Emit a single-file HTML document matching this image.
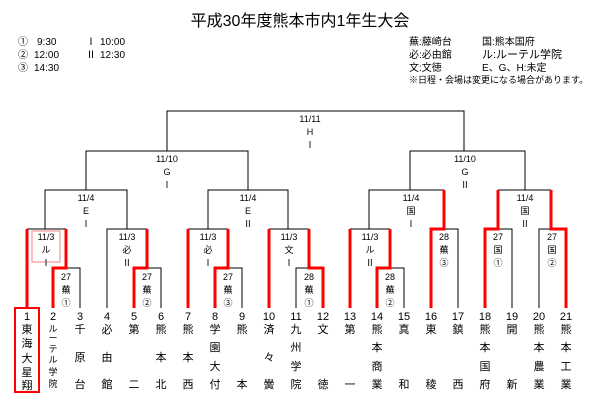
<!DOCTYPE html>
<html><head><meta charset="utf-8"><style>
body{margin:0;background:#fff}
svg{display:block}
text{font-family:"Liberation Sans","Noto Sans CJK JP",sans-serif;fill:#000}
</style></head><body>
<svg width="600" height="400" viewBox="0 0 600 400" xmlns="http://www.w3.org/2000/svg">
<text x="300" y="26" font-size="16" text-anchor="middle">平成30年度熊本市内1年生大会</text>
<g font-size="10">
<text x="18" y="45">①</text><text x="37" y="45">9:30</text><text x="86" y="45">Ⅰ</text><text x="100" y="45">10:00</text>
<text x="18" y="58">②</text><text x="34" y="58">12:00</text><text x="86" y="58">Ⅱ</text><text x="100" y="58">12:30</text>
<text x="18" y="71">③</text><text x="34" y="71">14:30</text>
<text x="409" y="45">蕪:藤崎台</text><text x="482" y="45">国:熊本国府</text>
<text x="409" y="58">必:必由館</text><text x="482" y="58" font-size="11">ル:ルーテル学院</text>
<text x="409" y="71">文:文徳</text><text x="482" y="71">E、G、H:未定</text>
<text x="409" y="83" font-size="9">※日程・会場は変更になる場合があります。</text>
</g>
<g stroke="#000" stroke-width="1" fill="none">
<path d="M167 151V111H464V151"/>
<path d="M86 190V151H248V190"/>
<path d="M410 190V151H525V190"/>
<path d="M45 229V190H127V229"/>
<path d="M208 229V190H288V229"/>
<path d="M369 229V190H444"/>
<path d="M498 190H551"/>
<path d="M27 229H66"/><path d="M107 308V229H147"/><path d="M188 229H228"/><path d="M269 229H309"/><path d="M350 229H390"/>
<path d="M444 229H458V308"/><path d="M485 229H512V308"/><path d="M539 308V229H551"/>
<path d="M66 268H80V308"/><path d="M147 268H161V308"/><path d="M228 268H242V308"/><path d="M296 308V268H309"/><path d="M390 268H404V308"/>
</g>
<g stroke="#f00" stroke-width="3" fill="none">
<path d="M27 229V308"/>
<path d="M53 308V268H66V229"/>
<path d="M134 308V268H147V229"/>
<path d="M188 229V308"/>
<path d="M215 308V268H228V229"/>
<path d="M269 229V308"/>
<path d="M323 308V268H309V229"/>
<path d="M350 229V308"/>
<path d="M377 308V268H390V229"/>
<path d="M431 308V229H444V190"/>
<path d="M485 308V229H498V190"/>
<path d="M566 308V229H551V190"/>
</g>
<rect x="32" y="231" width="28" height="31" fill="#fff" stroke="#f08080" stroke-width="1"/>
<rect x="15" y="308" width="24" height="84" fill="none" stroke="#f00" stroke-width="2"/>
<g font-size="9" text-anchor="middle" fill="#333">
<text x="310" y="122">11/11</text><text x="310" y="135">H</text><text x="310" y="148">Ⅰ</text>
<text x="167" y="162">11/10</text><text x="167" y="175">G</text><text x="167" y="188">Ⅰ</text>
<text x="465" y="162">11/10</text><text x="465" y="175">G</text><text x="465" y="188">Ⅱ</text>
<text x="86" y="201">11/4</text><text x="86" y="214">E</text><text x="86" y="227">Ⅰ</text>
<text x="248" y="201">11/4</text><text x="248" y="214">E</text><text x="248" y="227">Ⅱ</text>
<text x="411" y="201">11/4</text><text x="411" y="214">国</text><text x="411" y="227">Ⅰ</text>
<text x="525" y="201">11/4</text><text x="525" y="214">国</text><text x="525" y="227">Ⅱ</text>
<text x="46" y="240">11/3</text><text x="46" y="253">ル</text><text x="46" y="266">Ⅰ</text>
<text x="127" y="240">11/3</text><text x="127" y="253">必</text><text x="127" y="266">Ⅱ</text>
<text x="208" y="240">11/3</text><text x="208" y="253">必</text><text x="208" y="266">Ⅰ</text>
<text x="289" y="240">11/3</text><text x="289" y="253">文</text><text x="289" y="266">Ⅰ</text>
<text x="370" y="240">11/3</text><text x="370" y="253">ル</text><text x="370" y="266">Ⅱ</text>
<text x="444" y="240">28</text><text x="444" y="253">蕪</text><text x="444" y="266">③</text>
<text x="498" y="240">27</text><text x="498" y="253">国</text><text x="498" y="266">①</text>
<text x="552" y="240">27</text><text x="552" y="253">国</text><text x="552" y="266">②</text>
<text x="66" y="280">27</text><text x="66" y="293">蕪</text><text x="66" y="306">①</text>
<text x="147" y="280">27</text><text x="147" y="293">蕪</text><text x="147" y="306">②</text>
<text x="228" y="280">27</text><text x="228" y="293">蕪</text><text x="228" y="306">③</text>
<text x="309" y="280">28</text><text x="309" y="293">蕪</text><text x="309" y="306">①</text>
<text x="390" y="280">28</text><text x="390" y="293">蕪</text><text x="390" y="306">②</text>
</g>
<g font-size="11" text-anchor="middle">
<text x="27" y="320">1</text><text x="53" y="320">2</text><text x="80" y="320">3</text><text x="107" y="320">4</text><text x="134" y="320">5</text><text x="161" y="320">6</text><text x="188" y="320">7</text><text x="215" y="320">8</text><text x="242" y="320">9</text><text x="269" y="320">10</text><text x="296" y="320">11</text><text x="323" y="320">12</text><text x="350" y="320">13</text><text x="377" y="320">14</text><text x="404" y="320">15</text><text x="431" y="320">16</text><text x="458" y="320">17</text><text x="485" y="320">18</text><text x="512" y="320">19</text><text x="539" y="320">20</text><text x="566" y="320">21</text>
<text x="27" y="333">東</text><text x="27" y="347">海</text><text x="27" y="362">大</text><text x="27" y="376">星</text><text x="27" y="389">翔</text>
<text x="80" y="333">千</text><text x="80" y="361">原</text><text x="80" y="388">台</text>
<text x="107" y="333">必</text><text x="107" y="361">由</text><text x="107" y="388">館</text>
<text x="134" y="333">第</text><text x="134" y="388">二</text>
<text x="161" y="333">熊</text><text x="161" y="361">本</text><text x="161" y="388">北</text>
<text x="188" y="333">熊</text><text x="188" y="361">本</text><text x="188" y="388">西</text>
<text x="215" y="333">学</text><text x="215" y="351">園</text><text x="215" y="370">大</text><text x="215" y="388">付</text>
<text x="242" y="333">熊</text><text x="242" y="388">本</text>
<text x="269" y="333">済</text><text x="269" y="361">々</text><text x="269" y="388">黌</text>
<text x="296" y="333">九</text><text x="296" y="351">州</text><text x="296" y="370">学</text><text x="296" y="388">院</text>
<text x="323" y="333">文</text><text x="323" y="388">徳</text>
<text x="350" y="333">第</text><text x="350" y="388">一</text>
<text x="377" y="333">熊</text><text x="377" y="351">本</text><text x="377" y="370">商</text><text x="377" y="388">業</text>
<text x="404" y="333">真</text><text x="404" y="388">和</text>
<text x="431" y="333">東</text><text x="431" y="388">稜</text>
<text x="458" y="333">鎮</text><text x="458" y="388">西</text>
<text x="485" y="333">熊</text><text x="485" y="351">本</text><text x="485" y="370">国</text><text x="485" y="388">府</text>
<text x="512" y="333">開</text><text x="512" y="388">新</text>
<text x="539" y="333">熊</text><text x="539" y="351">本</text><text x="539" y="370">農</text><text x="539" y="388">業</text>
<text x="566" y="333">熊</text><text x="566" y="351">本</text><text x="566" y="370">工</text><text x="566" y="388">業</text>
</g>
<g font-size="9" text-anchor="middle">
<text x="53" y="332">ル</text><text x="53" y="341">ー</text><text x="53" y="352">テ</text><text x="53" y="363">ル</text><text x="53" y="375">学</text><text x="53" y="387">院</text>
</g>
</svg>
</body></html>
